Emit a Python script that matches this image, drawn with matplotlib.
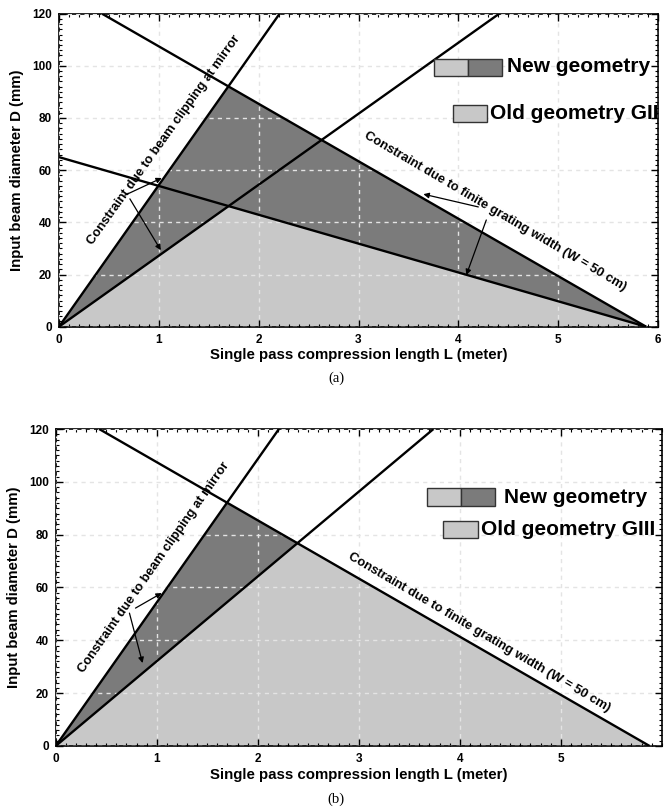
import matplotlib
matplotlib.use("Agg")
import matplotlib.pyplot as plt
from matplotlib.patches import Rectangle, Polygon
from matplotlib.ticker import MultipleLocator

# ---------------- data ----------------
# shared constraint lines
grating_L = [0.43, 5.88]          # finite grating width, new geometry (W = 50 cm)
grating_D = [120, 0]
clip_L = [0.0, 2.21]              # beam clipping at mirror
clip_D = [0, 120]

# panel (a): old geometry GII
a_old_grating_L = [0.0, 5.88]
a_old_grating_D = [65, 0]
a_old_clip_L = [0.0, 4.41]
a_old_clip_D = [0, 120]
a_new_region_L = [0.0, 1.70, 5.88]
a_new_region_D = [0, 92, 0]
a_old_region_L = [0.0, 1.70, 5.88]
a_old_region_D = [0, 46, 0]

# panel (b): old geometry GIII
b_old_clip_L = [0.0, 3.74]
b_old_clip_D = [0, 120]
b_new_region_L = [0.0, 1.70, 2.40]
b_new_region_D = [0, 92, 77]
b_old_region_L = [0.0, 2.40, 5.88]
b_old_region_D = [0, 77, 0]

x_ticks_a = [0, 1, 2, 3, 4, 5, 6]
x_ticks_b = [0, 1, 2, 3, 4, 5]
y_ticks = [0, 20, 40, 60, 80, 100, 120]

DARK = "#7b7b7b"
LIGHT = "#c8c8c8"
FONT = "Liberation Sans"

plt.rcParams["font.family"] = FONT

fig = plt.figure(figsize=(6.72, 8.07), dpi=100)
ax_a = fig.add_axes([0.0878, 0.5952, 0.8914, 0.3879])
ax_b = fig.add_axes([0.0829, 0.0756, 0.9018, 0.3928])


def style_axes(ax, xticks):
    ax.set_xlim(0, 6)
    ax.set_ylim(0, 120)
    ax.set_xticks(xticks)
    ax.set_yticks(y_ticks)
    ax.xaxis.set_minor_locator(MultipleLocator(0.1))
    ax.yaxis.set_minor_locator(MultipleLocator(2))
    ax.tick_params(which="both", direction="in", top=True, right=True)
    ax.tick_params(which="major", length=5, width=1.0, labelsize=8.5, pad=5)
    ax.tick_params(which="minor", length=2.5, width=0.8)
    for lab in ax.get_xticklabels() + ax.get_yticklabels():
        lab.set_fontweight("bold")
    for s in ax.spines.values():
        s.set_linewidth(1.2)
    ax.grid(True, which="major", color="#e4e4e4", linestyle=(0, (3, 3)), linewidth=1.0)
    ax.set_axisbelow(False)
    ax.set_xlabel("Single pass compression length L (meter)", fontsize=10.8,
                  fontweight="bold", labelpad=2)
    ax.set_ylabel("Input beam diameter D (mm)", fontsize=10.8, fontweight="bold",
                  labelpad=6)


def legend(ax, new_box, split, old_box, new_txt, old_txt, old_label):
    x0, x1, y0, y1 = new_box
    ax.add_patch(Rectangle((x0, y0), split - x0, y1 - y0, transform=ax.transAxes,
                           facecolor=LIGHT, edgecolor="#333333", lw=1.0, zorder=6))
    ax.add_patch(Rectangle((split, y0), x1 - split, y1 - y0, transform=ax.transAxes,
                           facecolor=DARK, edgecolor="#333333", lw=1.0, zorder=6))
    ax.text(new_txt[0], new_txt[1], "New geometry", transform=ax.transAxes,
            fontsize=15, fontweight="bold", va="center", ha="left", zorder=7)
    x0, x1, y0, y1 = old_box
    ax.add_patch(Rectangle((x0, y0), x1 - x0, y1 - y0, transform=ax.transAxes,
                           facecolor=LIGHT, edgecolor="#333333", lw=1.0, zorder=6))
    ax.text(old_txt[0], old_txt[1], old_label, transform=ax.transAxes,
            fontsize=15, fontweight="bold", va="center", ha="left", zorder=7)


arrow_kw = dict(arrowstyle="-|>", color="black", lw=0.9,
                mutation_scale=8, shrinkA=0, shrinkB=0)
ANN_FS = 9.4

# ---------------- panel (a) ----------------
ax = ax_a
ax.add_patch(Polygon(list(zip(a_new_region_L, a_new_region_D)), closed=True,
                     facecolor=DARK, edgecolor="none", zorder=1))
ax.add_patch(Polygon(list(zip(a_old_region_L, a_old_region_D)), closed=True,
                     facecolor=LIGHT, edgecolor="none", zorder=1.5))
for Ls, Ds in [(grating_L, grating_D), (clip_L, clip_D),
               (a_old_grating_L, a_old_grating_D), (a_old_clip_L, a_old_clip_D)]:
    ax.plot(Ls, Ds, color="black", lw=1.7, zorder=4, solid_capstyle="butt")
style_axes(ax, x_ticks_a)
ax.text(1.05, 71.5, "Constraint due to beam clipping at mirror", rotation=54.5,
        rotation_mode="anchor", ha="center", va="center", fontsize=ANN_FS,
        fontweight="bold", zorder=5)
ax.text(4.37, 44.0, "Constraint due to finite grating width (W = 50 cm)",
        rotation=-30.5, rotation_mode="anchor", ha="center", va="center",
        fontsize=ANN_FS, fontweight="bold", zorder=5)
ax.annotate("", xy=(1.03, 57.0), xytext=(0.66, 50.4), arrowprops=arrow_kw, zorder=5)
ax.annotate("", xy=(1.02, 29.3), xytext=(0.71, 49.0), arrowprops=arrow_kw, zorder=5)
ax.annotate("", xy=(3.65, 50.8), xytext=(4.20, 45.9), arrowprops=arrow_kw, zorder=5)
ax.annotate("", xy=(4.08, 19.8), xytext=(4.28, 40.9), arrowprops=arrow_kw, zorder=5)
legend(ax, (0.626, 0.740, 0.801, 0.855), 0.683, (0.658, 0.715, 0.654, 0.708),
       (0.748, 0.830), (0.719, 0.681), "Old geometry GII")

# ---------------- panel (b) ----------------
ax = ax_b
ax.add_patch(Polygon(list(zip(b_new_region_L, b_new_region_D)), closed=True,
                     facecolor=DARK, edgecolor="none", zorder=1))
ax.add_patch(Polygon(list(zip(b_old_region_L, b_old_region_D)), closed=True,
                     facecolor=LIGHT, edgecolor="none", zorder=1.5))
for Ls, Ds in [(grating_L, grating_D), (clip_L, clip_D), (b_old_clip_L, b_old_clip_D)]:
    ax.plot(Ls, Ds, color="black", lw=1.7, zorder=4, solid_capstyle="butt")
style_axes(ax, x_ticks_b)
ax.text(0.97, 67.7, "Constraint due to beam clipping at mirror", rotation=55,
        rotation_mode="anchor", ha="center", va="center", fontsize=ANN_FS,
        fontweight="bold", zorder=5)
ax.text(4.19, 43.1, "Constraint due to finite grating width (W = 50 cm)",
        rotation=-30.5, rotation_mode="anchor", ha="center", va="center",
        fontsize=ANN_FS, fontweight="bold", zorder=5)
ax.annotate("", xy=(1.05, 57.9), xytext=(0.79, 52.2), arrowprops=arrow_kw, zorder=5)
ax.annotate("", xy=(0.86, 31.4), xytext=(0.73, 50.3), arrowprops=arrow_kw, zorder=5)
legend(ax, (0.613, 0.725, 0.757, 0.814), 0.669, (0.639, 0.697, 0.656, 0.710),
       (0.740, 0.785), (0.702, 0.683), "Old geometry GIII")

# captions
fig.text(0.5, 1 - 378 / 807, "(a)", ha="center", va="center", fontsize=10.5,
         family="Liberation Serif")
fig.text(0.5, 1 - 799 / 807, "(b)", ha="center", va="center", fontsize=10.5,
         family="Liberation Serif")

fig.savefig("out.png", dpi=100)
